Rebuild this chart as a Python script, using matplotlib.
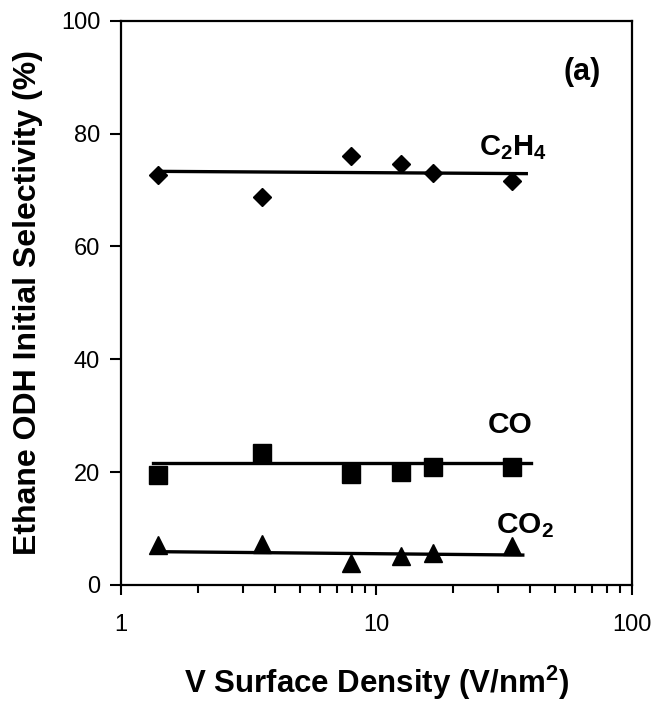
import matplotlib.pyplot as plt

plt.rcParams['font.family'] = ['Liberation Sans', 'DejaVu Sans']
plt.rcParams['mathtext.fontset'] = 'custom'
plt.rcParams['mathtext.rm'] = 'Liberation Sans'
plt.rcParams['mathtext.bf'] = 'Liberation Sans:bold'

# V surface density (V/nm^2)
density = [1.40, 3.56, 7.94, 12.5, 16.6, 34.0]

# initial selectivity (%)
c2h4 = [72.7, 68.8, 76.0, 74.6, 73.0, 71.6]
co = [19.5, 23.4, 19.6, 20.0, 20.9, 20.9]
co2 = [7.0, 7.3, 3.9, 5.2, 5.6, 6.9]

# trend lines (end points)
c2h4_fit_x = [1.43, 38.6]
c2h4_fit_y = [73.3, 72.9]
co_fit_x = [1.33, 40.1]
co_fit_y = [21.6, 21.6]
co2_fit_x = [1.41, 37.4]
co2_fit_y = [5.9, 5.3]

fig = plt.figure(figsize=(6.61, 7.02), dpi=100)
ax = fig.add_axes([0.183, 0.1667, 0.773, 0.8038])

ax.plot(c2h4_fit_x, c2h4_fit_y, color='black', lw=2.4)
ax.plot(co_fit_x, co_fit_y, color='black', lw=2.4)
ax.plot(co2_fit_x, co2_fit_y, color='black', lw=2.4)

ax.plot(density, c2h4, 'D', color='black', ms=9.6, ls='none')
ax.plot(density, co, 's', color='black', ms=12.8, ls='none')
ax.plot(density, co2, '^', color='black', ms=13.3, ls='none')

ax.set_xscale('log')
ax.set_xlim(1, 100)
ax.set_ylim(0, 100)
ax.set_yticks(range(0, 101, 20))
ax.set_xticks([1, 10, 100])
ax.set_xticklabels(['1', '10', '100'])

ax.tick_params(axis='both', which='major', direction='out', length=7, width=1.5,
               labelsize=17, pad=14)
ax.tick_params(axis='y', pad=7, length=8)
ax.tick_params(axis='x', which='minor', direction='out', length=6, width=1.5)
for sp in ax.spines.values():
    sp.set_linewidth(1.6)

ax.text(25.1, 76.2, r'C$\mathbf{_2}$H$\mathbf{_4}$', fontsize=21, fontweight='bold',
        ha='left', va='baseline')
ax.text(27.2, 26.9, 'CO', fontsize=21.5, fontweight='bold', ha='left', va='baseline')
ax.text(29.5, 9.2, r'CO$\mathbf{_2}$', fontsize=21.5, fontweight='bold',
        ha='left', va='baseline')
ax.text(64, 90.9, '(a)', fontsize=22, fontweight='bold', ha='center', va='center')

ax.set_xlabel(r'V Surface Density (V/nm$\mathbf{^2}$)', fontsize=22.5, fontweight='bold')
ax.xaxis.set_label_coords(0.5, -0.14)
ax.set_ylabel('Ethane ODH Initial Selectivity (%)', fontsize=23, fontweight='bold')
ax.yaxis.set_label_coords(-0.152, 0.5)

fig.savefig('out.png', dpi=100)
